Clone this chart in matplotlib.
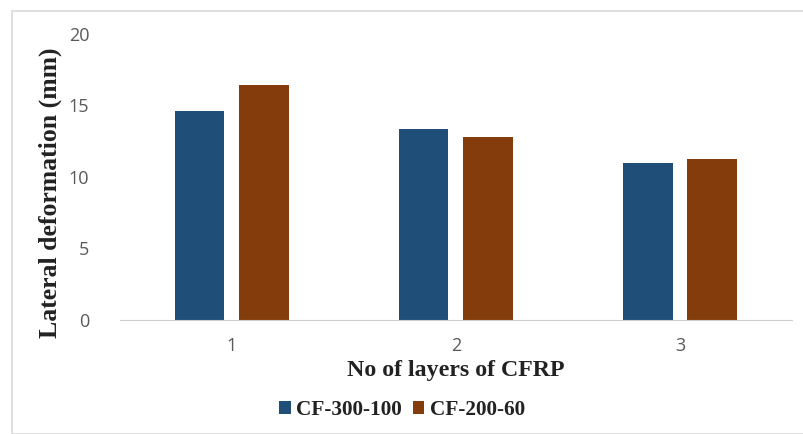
import numpy as np
import matplotlib
matplotlib.use("Agg")
import matplotlib.pyplot as plt
from matplotlib.patches import Rectangle

# data
layers = ["1", "2", "3"]
cf_300_100 = [14.6, 13.35, 11.0]
cf_200_60 = [16.4, 12.8, 11.25]
series_names = ["CF-300-100", "CF-200-60"]

fig = plt.figure(figsize=(8.04, 4.34), dpi=100)
ax = fig.add_axes([0.149, 0.2627, 0.836, 0.659])

x = np.arange(len(layers))
w = 0.22
off = 0.143
b1 = ax.bar(x - off, cf_300_100, w, color="#1F4E79", label=series_names[0])
b2 = ax.bar(x + off, cf_200_60, w, color="#843C0C", label=series_names[1])

ax.set_xlim(-0.5, 2.5)
ax.set_ylim(0, 20)
ax.set_yticks([0, 5, 10, 15, 20])
ax.set_xticks(x)
ax.set_xticklabels(layers)

for s in ["top", "right", "left"]:
    ax.spines[s].set_visible(False)
ax.spines["bottom"].set_color("#D0D0D0")
ax.tick_params(axis="both", length=0, labelsize=13, colors="#595959", labelfontfamily="Open Sans")
ax.tick_params(axis="y", pad=22)
ax.tick_params(axis="x", pad=12)

ax.set_ylabel("Lateral deformation (mm)", fontfamily="Liberation Serif", fontweight="bold",
              fontsize=18.5, color="#222222")
# label sits a bit below the plot centre, as in the original
ax.yaxis.set_label_coords(-0.086, 0.444)
ax.set_xlabel("No of layers of CFRP", fontfamily="Liberation Serif", fontweight="bold",
              fontsize=17.2, color="#222222", labelpad=4)

leg = fig.legend(handles=[b1, b2], loc="center", bbox_to_anchor=(0.5, 0.056), ncol=2,
                 frameon=False, handlelength=0.55, handleheight=0.55, handletextpad=0.25,
                 columnspacing=0.5, prop={"family": "Liberation Serif", "weight": "bold", "size": 15.3})
for t in leg.get_texts():
    t.set_color("#222222")

# outer chart border
fig.patches.append(Rectangle((0.015, 0.0), 0.99, 0.975, transform=fig.transFigure,
                             fill=False, edgecolor="#D9D9D9", linewidth=1.2))

fig.savefig("out.png", dpi=100)
